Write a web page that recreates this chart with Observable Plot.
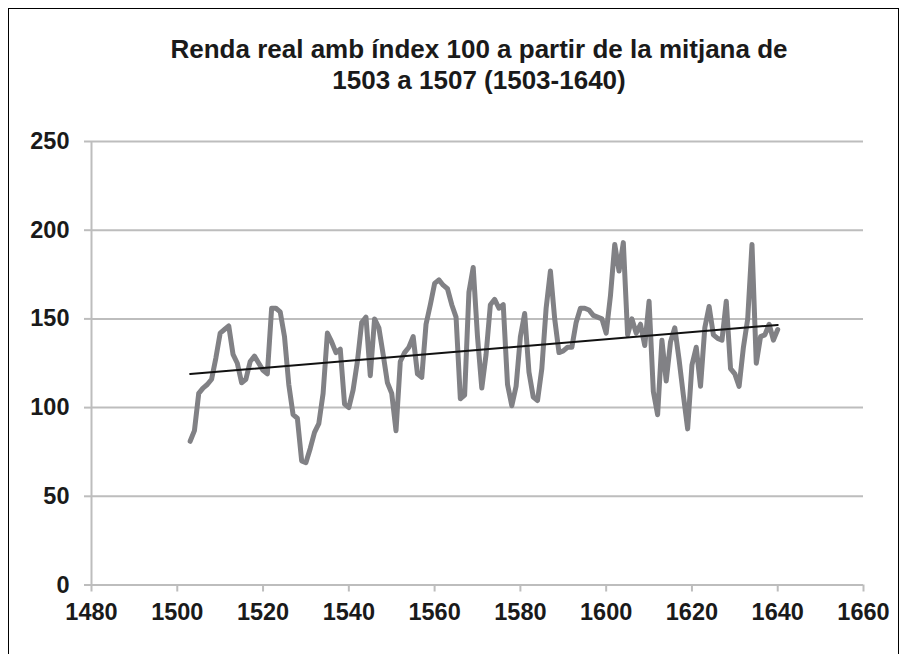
<!DOCTYPE html>
<html><head><meta charset="utf-8">
<script src="https://cdn.jsdelivr.net/npm/d3@7"></script>
<script src="https://cdn.jsdelivr.net/npm/@observablehq/plot@0.6"></script>
<style>
body{margin:0;background:#fff;}
#wrap{position:relative;width:908px;height:654px;overflow:hidden;font-family:"Liberation Sans",Arial,sans-serif;}
#frame{position:absolute;left:8px;top:8px;width:891px;height:720px;border:1px solid #000;box-sizing:border-box;}
#title{position:absolute;left:0;width:958px;top:34px;text-align:center;font-weight:bold;font-size:26px;line-height:31px;color:#1a1a1a;}
#chart{position:absolute;left:0;top:0;}
</style></head><body>
<div id="wrap"><div id="frame"></div><div id="chart"></div><div id="title">Renda real amb índex 100 a partir de la mitjana de<br>1503 a 1507 (1503-1640)</div></div>
<script>
const firstYear = 1503;
const values = [
  81,87,108,111,113,116,128,142,144,146,
  130,125,114,116,126,129,125,121,119,156,
  156,154,140,113,96,94,70,69,77,86,
  91,108,142,137,131,133,102,100,110,126,
  148,151,118,150,145,130,114,108,87,126,
  131,134,140,119,117,147,158,170,172,169,
  167,158,151,105,107,165,179,140,111,130,
  158,161,156,158,113,101,112,140,153,120,
  106,104,122,156,177,150,131,132,134,134,
  148,156,156,155,152,151,150,142,163,192,
  177,193,141,150,142,147,135,160,109,96,
  138,115,137,145,127,107,88,124,134,112,
  145,157,141,139,138,160,122,119,112,134,
  150,192,125,140,141,147,138,144
];
const xTicks = [1480,1500,1520,1540,1560,1580,1600,1620,1640,1660];
const yTicks = [0,50,100,150,200,250];

const data = values.map((v, i) => ({year: firstYear + i, value: v}));

const chart = Plot.plot({
  width: 908, height: 654,
  marginTop: 141, marginBottom: 69.5, marginLeft: 91, marginRight: 45,
  x: {domain: [1480, 1660]},
  y: {domain: [0, 250]},
  style: {fontFamily: "'Liberation Sans', Arial, sans-serif", fontSize: "23.5px", fontWeight: "bold", color: "#1a1a1a", background: "transparent", overflow: "visible"},
  marks: [
    Plot.gridY(yTicks, {stroke: "#bdbdbd", strokeOpacity: 1, strokeWidth: 2}),
    Plot.ruleX([1480], {stroke: "#bdbdbd", strokeWidth: 2}),
    Plot.ruleY([0], {stroke: "#bdbdbd", strokeWidth: 2}),
    Plot.axisY(yTicks, {tickSize: 7, tickPadding: 15, stroke: "#bdbdbd", strokeWidth: 2, label: null, tickFormat: d => String(d)}),
    Plot.axisX(xTicks, {tickSize: 7, tickPadding: 11, stroke: "#bdbdbd", strokeWidth: 2, label: null, tickFormat: d => String(d)}),
    Plot.lineY(data, {x: "year", y: "value", stroke: "#818185", strokeWidth: 5, strokeLinejoin: "round", strokeLinecap: "round"}),
    Plot.linearRegressionY(data, {x: "year", y: "value", stroke: "#111", strokeWidth: 2, ci: 0})
  ]
});
document.getElementById("chart").appendChild(chart);
</script>
</body></html>
